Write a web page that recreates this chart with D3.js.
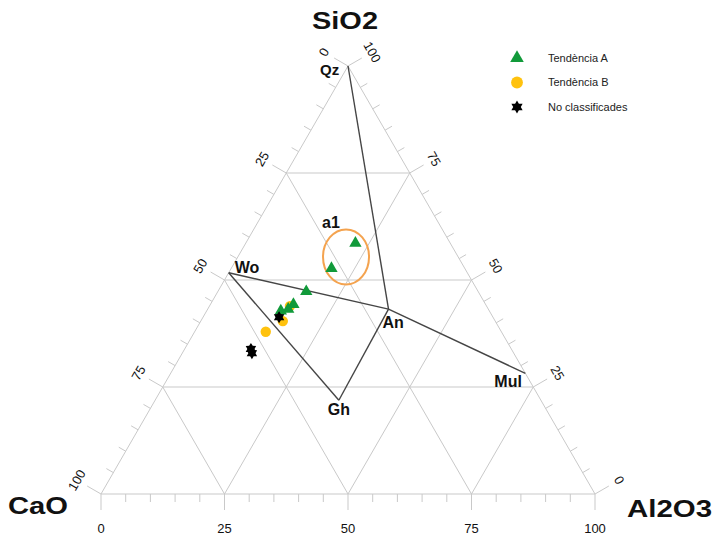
<!DOCTYPE html>
<html>
<head>
<meta charset="utf-8">
<script src="https://cdn.jsdelivr.net/npm/d3@7"></script>
<style>
  body { margin: 0; background: #fff; }
  svg { display: block; font-family: "Liberation Sans", Arial, sans-serif; }
</style>
</head>
<body>
<div id="chart"></div>
<script>
// --- Data: each sample as [CaO, SiO2, Al2O3] (wt %) ---
const tendenciaA = [
  [19.2, 58.6, 22.2],
  [27.0, 52.7, 20.3],
  [34.8, 47.3, 17.9],
  [38.9, 44.3, 16.8],
  [40.5, 43.2, 16.3],
  [42.2, 42.8, 15.0]
];
const tendenciaB = [
  [47.7, 37.9, 14.4],
  [43.0, 40.4, 16.6],
  [39.8, 43.9, 16.3]
];
const noClassificades = [
  [43.3, 41.3, 15.4],
  [52.7, 33.9, 13.4],
  [52.9, 32.9, 14.1]
];

// reference minerals [CaO, SiO2, Al2O3]
const mineralNames = ["Qz", "Wo", "An", "Gh", "Mul"];
const mineralComp = [
  [0, 100, 0],
  [48.3, 51.7, 0],
  [20.2, 43.2, 36.6],
  [40.9, 21.9, 37.2],
  [0, 28.2, 71.8]
];
const tieLines = [["Qz", "An"], ["Wo", "An"], ["An", "Mul"], ["Wo", "Gh"], ["Gh", "An"]];

// group a1 (ellipse around the two upper samples)
const groupA1 = [22.7, 55.4, 21.9];

const ticks = [0, 25, 50, 75, 100];
const legendLabels = ["Tendència A", "Tendència B", "No classificades"];

// --- Setup ---
const width = 715, height = 539;
const svg = d3.select("#chart").append("svg")
  .attr("width", width).attr("height", height);

const xScale = d3.scaleLinear().domain([0, 100]).range([101, 595]);
const yScale = d3.scaleLinear().domain([0, 100]).range([494, 66]);

// ternary -> screen
function proj(c) {
  const s = c[1], a = c[2];
  return [xScale(a + s / 2), yScale(s)];
}

const gridColor = "#c9c9c9";
const g = svg.append("g");

// grid lines at 25/50/75 in the three directions
const grid = [];
[25, 50, 75].forEach(v => {
  grid.push([[100 - v, v, 0], [0, v, 100 - v]]);       // SiO2 const
  grid.push([[v, 100 - v, 0], [v, 0, 100 - v]]);       // CaO const
  grid.push([[100 - v, 0, v], [0, 100 - v, v]]);       // Al2O3 const
});
g.selectAll(".grid").data(grid).enter().append("line")
  .attr("x1", d => proj(d[0])[0]).attr("y1", d => proj(d[0])[1])
  .attr("x2", d => proj(d[1])[0]).attr("y2", d => proj(d[1])[1])
  .attr("stroke", gridColor).attr("stroke-width", 1);

// frame
const corners = [[100, 0, 0], [0, 100, 0], [0, 0, 100]];
g.append("path")
  .attr("d", d3.line()(corners.map(proj)) + "Z")
  .attr("fill", "none").attr("stroke", gridColor).attr("stroke-width", 1);

// --- axes: ticks and labels ---
const minor = d3.range(0, 101, 5);
const axes = [
  { // bottom: Al2O3
    pt: v => proj([100 - v, 0, v]), n: [0, 1], rot: 0, labOff: 34
  },
  { // left: CaO (0 at apex, 100 at left vertex)
    pt: v => proj([v, 100 - v, 0]), n: [-Math.sqrt(3) / 2, -0.5], rot: -60, labOff: 28
  },
  { // right: SiO2 (100 at apex, 0 at right vertex)
    pt: v => proj([0, v, 100 - v]), n: [Math.sqrt(3) / 2, -0.5], rot: 60, labOff: 28
  }
];

axes.forEach(ax => {
  g.append("g").selectAll("line").data(minor).enter().append("line")
    .each(function(v) {
      const p = ax.pt(v);
      const len = v % 25 === 0 ? 16 : 8;
      d3.select(this)
        .attr("x1", p[0]).attr("y1", p[1])
        .attr("x2", p[0] + ax.n[0] * len).attr("y2", p[1] + ax.n[1] * len);
    })
    .attr("stroke", gridColor).attr("stroke-width", 1);

  g.append("g").selectAll("text").data(ticks).enter().append("text")
    .attr("transform", v => {
      const p = ax.pt(v);
      const x = p[0] + ax.n[0] * ax.labOff, y = p[1] + ax.n[1] * ax.labOff;
      return `translate(${x},${y}) rotate(${ax.rot})`;
    })
    .attr("text-anchor", "middle")
    .attr("dy", "0.35em")
    .attr("font-size", 13)
    .attr("fill", "#111")
    .text(v => v);
});

// corner labels
const cornerLabels = [
  { t: "SiO2", x: 312, y: 28.5, w: 66 },
  { t: "CaO", x: 8, y: 514, w: 60 },
  { t: "Al2O3", x: 627, y: 516.5, w: 85 }
];
svg.selectAll(".corner").data(cornerLabels).enter().append("text")
  .attr("x", d => d.x).attr("y", d => d.y)
  .attr("textLength", d => d.w).attr("lengthAdjust", "spacingAndGlyphs")
  .attr("font-size", 24).attr("font-weight", "bold").attr("fill", "#111")
  .text(d => d.t);

// --- tie lines ---
const mineral = {};
mineralNames.forEach((n, i) => mineral[n] = mineralComp[i]);
g.selectAll(".tie").data(tieLines).enter().append("line")
  .attr("x1", d => proj(mineral[d[0]])[0]).attr("y1", d => proj(mineral[d[0]])[1])
  .attr("x2", d => proj(mineral[d[1]])[0]).attr("y2", d => proj(mineral[d[1]])[1])
  .attr("stroke", "#454545").attr("stroke-width", 1.4);

// mineral labels (offsets from the mineral point)
const labelOffset = { Qz: [-28, 9], Wo: [6, 0], An: [-6, 19], Gh: [-11, 15], Mul: [-31, 14] };
g.selectAll(".min").data(mineralNames).enter().append("text")
  .attr("x", d => proj(mineral[d])[0] + labelOffset[d][0])
  .attr("y", d => proj(mineral[d])[1] + labelOffset[d][1])
  .attr("font-size", d => d === "Qz" ? 15 : 16)
  .attr("font-weight", "bold").attr("fill", "#111")
  .text(d => d);

// a1 ellipse
const a1 = proj(groupA1);
g.append("ellipse")
  .attr("cx", a1[0]).attr("cy", a1[1])
  .attr("rx", 23).attr("ry", 27.5)
  .attr("fill", "none").attr("stroke", "#f4a34f").attr("stroke-width", 2);
g.append("text")
  .attr("x", a1[0] - 24).attr("y", a1[1] - 29)
  .attr("font-size", 16).attr("font-weight", "bold").attr("fill", "#111")
  .text("a1");

// --- markers ---
const green = "#119a3a", yellow = "#ffc20e";
const triangle = d3.symbol().type(d3.symbolTriangle).size(66);
const circle = d3.symbol().type(d3.symbolCircle).size(85);
function starPath(r1, r2, n) {
  const pts = [];
  for (let i = 0; i < 2 * n; i++) {
    const r = i % 2 === 0 ? r1 : r2;
    const ang = Math.PI * i / n - Math.PI / 2;
    pts.push([r * Math.cos(ang), r * Math.sin(ang)]);
  }
  return d3.line()(pts) + "Z";
}
const star = starPath(6, 3.6, 6);

g.selectAll(".b").data(tendenciaB).enter().append("path")
  .attr("d", circle())
  .attr("transform", d => `translate(${proj(d)})`)
  .attr("fill", yellow);
g.selectAll(".a").data(tendenciaA).enter().append("path")
  .attr("d", triangle())
  .attr("transform", d => `translate(${proj(d)})`)
  .attr("fill", green);
g.selectAll(".n").data(noClassificades).enter().append("path")
  .attr("d", star)
  .attr("transform", d => `translate(${proj(d)})`)
  .attr("fill", "#000");

// --- legend ---
const legend = svg.append("g").attr("transform", "translate(517,58)");
const legendShapes = [
  { d: d3.symbol().type(d3.symbolTriangle).size(80)(), fill: green },
  { d: d3.symbol().type(d3.symbolCircle).size(110)(), fill: yellow },
  { d: starPath(6.5, 3.8, 6), fill: "#000" }
];
legendLabels.forEach((lab, i) => {
  const row = legend.append("g").attr("transform", `translate(0,${i * 24.5})`);
  row.append("path").attr("d", legendShapes[i].d).attr("fill", legendShapes[i].fill);
  row.append("text").attr("x", 31).attr("dy", "0.35em")
    .attr("font-size", 11).attr("fill", "#222").text(lab);
});
</script>
</body>
</html>
